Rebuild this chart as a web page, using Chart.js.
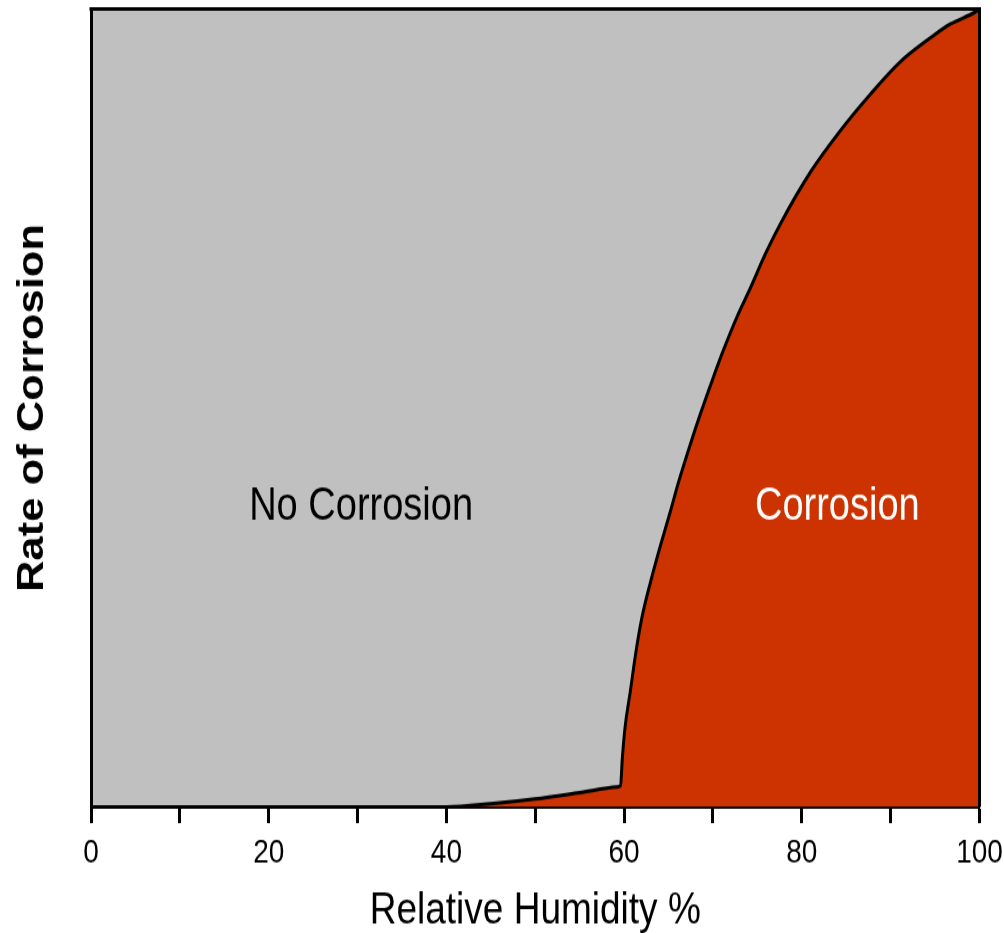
<!DOCTYPE html>
<html>
<head>
<meta charset="utf-8">
<title>Rate of Corrosion</title>
<script src="https://cdn.jsdelivr.net/npm/chart.js@4.4.0/dist/chart.umd.min.js"></script>
<style>
  html, body { margin: 0; padding: 0; background: #fff; }
  /* o original está esticado na vertical: desenha em 781px e mostra em 933px */
  #chartCorrosion { display: block; width: 1004px; height: 933px; }
</style>
</head>
<body>
<canvas id="chartCorrosion" width="1004" height="781" style="width:1004px;height:933px"></canvas>
<script>
// valores
const humidity = [0, 40, 45, 50, 55, 59.2, 59.6, 59.8, 60.1, 60.7, 61.3, 62.0, 63.0, 63.9, 65.2, 66.1, 67.5, 68.6, 69.9, 71.2, 72.7, 74.2, 75.9, 77.6, 81.0, 84.3, 87.7, 91.1, 94.5, 96.7, 99.5, 100];
const rate = [0, 0, 0.4, 1.0, 1.8, 2.5, 2.7, 6.1, 9.9, 14.5, 19.2, 23.7, 28.3, 32.0, 37.0, 40.6, 45.6, 49.3, 53.4, 57.3, 61.4, 65.0, 69.3, 73.1, 79.6, 84.7, 89.3, 93.4, 96.4, 98.1, 99.6, 100];
const xTicks = [0, 20, 40, 60, 80, 100];
const regionLabels = ['No Corrosion', 'Corrosion'];
const regionX = [30.4, 84];
const regionY = [37.6, 37.6];

const FONT = "'Liberation Sans', Arial, sans-serif";
const GRAY = '#c0c0c0';
const RED = '#cc3300';

Chart.defaults.color = '#000';

const plotFrame = {
  id: 'plotFrame',
  beforeDraw(chart){
    const {ctx, chartArea: a} = chart;
    ctx.save();
    ctx.fillStyle = GRAY;
    ctx.fillRect(a.left, a.top, a.right - a.left, a.bottom - a.top);
    ctx.restore();
  },
  afterDraw(chart){
    const {ctx, chartArea: a, scales} = chart;
    ctx.save();
    ctx.strokeStyle = '#000';
    ctx.lineWidth = 3;
    ctx.beginPath();
    ctx.moveTo(a.left - 1.5, a.top);
    ctx.lineTo(a.right, a.top);
    ctx.lineTo(a.right, a.bottom);
    ctx.stroke();

    ctx.font = '38px ' + FONT;
    ctx.textAlign = 'center';
    ctx.textBaseline = 'middle';
    regionLabels.forEach((txt, i) => {
      ctx.fillStyle = i === 0 ? '#000' : '#fff';
      ctx.fillText(txt, scales.x.getPixelForValue(regionX[i]), scales.y.getPixelForValue(regionY[i]));
    });
    ctx.restore();
  }
};

const ctx = document.getElementById('chartCorrosion').getContext('2d');
new Chart(ctx, {
  type: 'line',
  data: {
    datasets: [{
      data: humidity.map((h, i) => ({x: h, y: rate[i]})),
      borderColor: '#000',
      borderWidth: 3,
      backgroundColor: RED,
      fill: 'origin',
      pointRadius: 0,
      cubicInterpolationMode: 'monotone'
    }]
  },
  options: {
    responsive: false,
    animation: false,
    devicePixelRatio: 1,
    layout: { padding: { top: 7.5, right: 24.5, left: 0, bottom: 0 } },
    plugins: { legend: { display: false }, tooltip: { enabled: false } },
    scales: {
      x: {
        type: 'linear',
        min: 0,
        max: 100,
        afterFit: s => { s.height = 105.5; s.paddingLeft = 0; s.paddingRight = 0; },
        border: { color: '#000', width: 3 },
        grid: { drawOnChartArea: false, drawTicks: true, tickLength: 13.5, tickWidth: 3, tickColor: '#000' },
        ticks: {
          stepSize: 10,
          autoSkip: false,
          maxRotation: 0,
          padding: 8,
          font: { family: FONT, size: 28 },
          callback: v => xTicks.includes(v) ? String(v) : ''
        },
        title: {
          display: true,
          text: 'Relative Humidity %',
          font: { family: FONT, size: 37, lineHeight: 1 },
          padding: { top: 0, bottom: 0 }
        }
      },
      y: {
        min: 0,
        max: 100,
        afterFit: s => { s.width = 91; },
        border: { color: '#000', width: 3 },
        grid: { display: false },
        ticks: { display: false },
        title: {
          display: true,
          text: 'Rate of Corrosion',
          font: { family: FONT, size: 36.5, weight: 'bold', lineHeight: 1 },
          padding: { top: 14.5, bottom: 0 }
        }
      }
    }
  },
  plugins: [plotFrame]
});
</script>
</body>
</html>
